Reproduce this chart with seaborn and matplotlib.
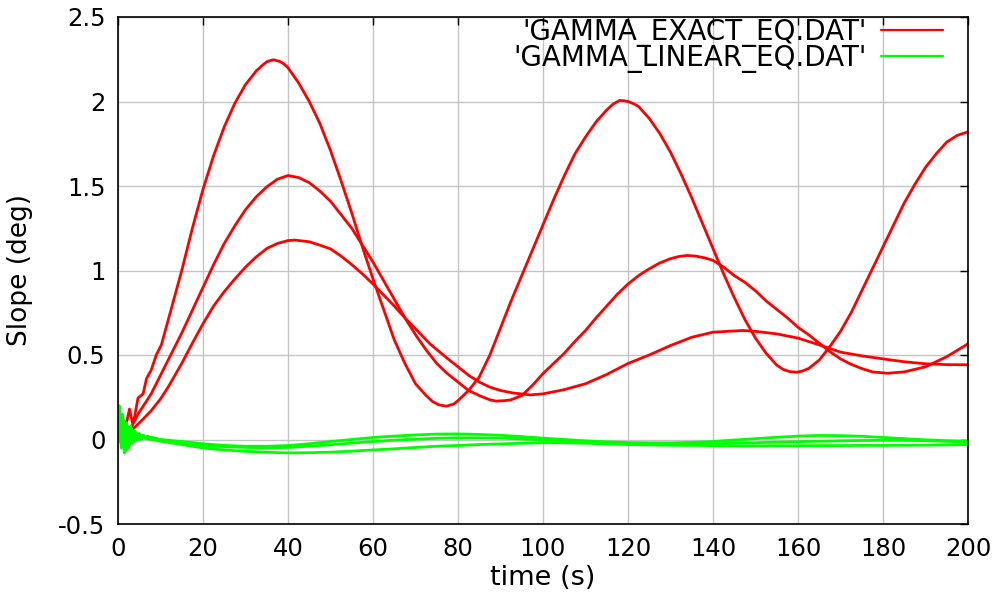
import numpy as np
import pandas as pd
import matplotlib
matplotlib.use("Agg")
import matplotlib.pyplot as plt
import seaborn as sns

# (time [s], slope [deg])
exact_run1 = [
    (0.8, 0.06), (1.2, 0.01), (2.0, 0.10), (2.7, 0.18), (3.4, 0.10), (3.8, 0.12),
    (4.7, 0.245), (5.9, 0.27), (6.7, 0.36), (7.8, 0.41), (9.0, 0.50), (10.2, 0.56),
    (12.5, 0.77), (15, 1.0), (17.5, 1.25), (20, 1.48), (22.5, 1.68), (25, 1.85),
    (27.5, 1.99), (30, 2.10), (32.5, 2.18), (34, 2.215), (35, 2.235), (36.5, 2.247),
    (38, 2.238), (39, 2.223), (40, 2.20), (42.5, 2.11), (45, 2.00), (47.5, 1.87),
    (50, 1.71), (52.5, 1.53), (55, 1.34), (57.5, 1.14), (60, 0.95), (62.5, 0.77),
    (65, 0.59), (67.5, 0.45), (70, 0.33), (72.5, 0.26), (74, 0.225), (75.5, 0.205),
    (77.3, 0.197), (79, 0.21), (80, 0.23), (82.5, 0.29), (85, 0.37), (87.5, 0.50),
    (90, 0.66), (92.5, 0.82), (95, 0.97), (97.5, 1.12), (100, 1.27), (102.5, 1.42),
    (105, 1.56), (107.5, 1.69), (110, 1.79), (112.5, 1.88), (115, 1.95), (116.5, 1.985),
    (118, 2.006), (119, 2.005), (120, 2.0), (121.5, 1.985), (122.5, 1.97), (125, 1.90),
    (127.5, 1.81), (130, 1.70), (132.5, 1.57), (135, 1.43), (137.5, 1.28), (140, 1.13),
    (142.5, 0.98), (145, 0.84), (147.5, 0.71), (150, 0.60), (152.5, 0.51), (155, 0.44),
    (156.5, 0.415), (158, 0.402), (159.7, 0.398), (161, 0.405), (162.5, 0.42), (165, 0.47),
    (167.5, 0.55), (170, 0.64), (172.5, 0.75), (175, 0.88), (177.5, 1.01), (180, 1.14),
    (182.5, 1.27), (185, 1.40), (187.5, 1.51), (190, 1.61), (192.5, 1.69), (195, 1.76),
    (197.5, 1.80), (200, 1.82),
]
exact_run2 = [
    (1.5, 0.03), (3.1, 0.07), (4.7, 0.15), (6.0, 0.20), (7.8, 0.27), (10, 0.38),
    (11.8, 0.47), (15, 0.63), (17.5, 0.765), (20, 0.90), (22.5, 1.035), (25, 1.16),
    (27.5, 1.265), (30, 1.36), (32.5, 1.435), (35, 1.495), (37.5, 1.54), (40, 1.562),
    (42.5, 1.55), (45, 1.52), (47.5, 1.47), (50, 1.41), (52.5, 1.33), (55, 1.25),
    (57.5, 1.15), (60, 1.05), (62.5, 0.94), (65, 0.83), (67.5, 0.72), (70, 0.62),
    (72.5, 0.53), (75, 0.45), (77.5, 0.39), (80, 0.34), (82.5, 0.29), (85, 0.26),
    (87.5, 0.235), (89, 0.227), (91, 0.23), (92.5, 0.235), (95, 0.26), (97.5, 0.32),
    (100, 0.39), (102.5, 0.45), (105, 0.51), (107.5, 0.58), (110, 0.645), (112.5, 0.72),
    (115, 0.79), (117.5, 0.86), (120, 0.92), (122.5, 0.97), (125, 1.01), (127.5, 1.045),
    (130, 1.07), (132, 1.083), (134, 1.089), (136, 1.085), (138, 1.075), (140, 1.06),
    (142.5, 1.02), (145, 0.97), (147.5, 0.93), (150, 0.88), (152.5, 0.82), (155, 0.77),
    (157.5, 0.72), (160, 0.664), (162.5, 0.62), (165, 0.57), (167.5, 0.52), (170, 0.477),
    (172.5, 0.445), (175, 0.42), (177.5, 0.40), (181, 0.392), (185, 0.40), (190, 0.43),
    (195, 0.49), (200, 0.566),
]
exact_run3 = [
    (1.5, 0.02), (3.0, 0.05), (4.7, 0.09), (7.8, 0.17), (10, 0.24), (11.8, 0.31),
    (15, 0.45), (17.5, 0.57), (20, 0.685), (22.5, 0.79), (25, 0.875), (27.5, 0.95),
    (30, 1.02), (32.5, 1.08), (35, 1.13), (37.5, 1.16), (40, 1.177), (41.6, 1.18),
    (45, 1.17), (47.5, 1.15), (50, 1.128),
    (52.5, 1.085), (55, 1.035), (57.5, 0.98), (60, 0.92), (62.5, 0.855), (65, 0.79),
    (67.5, 0.72), (70, 0.655), (73.4, 0.566), (77.5, 0.48), (80, 0.43), (82.5, 0.38),
    (85, 0.34), (87.5, 0.31), (90, 0.29), (93, 0.275), (97, 0.264), (100, 0.27),
    (105, 0.295), (110, 0.33), (115, 0.385), (120, 0.45), (125, 0.50), (130, 0.556),
    (135, 0.605), (140, 0.635), (147, 0.645), (150, 0.64), (155, 0.625), (160, 0.60),
    (165, 0.56), (170, 0.517), (175, 0.495), (180, 0.477), (185, 0.46), (190, 0.448),
    (195, 0.443), (200, 0.442),
]
linear_run1 = [
    (0, 0.02), (0.15, 0.18), (0.3, 0.20), (0.5, 0.02), (0.7, -0.02), (0.85, 0.12),
    (1.0, 0.15), (1.25, -0.02), (1.5, -0.08), (1.75, 0.05), (2.0, 0.10), (2.25, 0.0),
    (2.5, -0.05), (2.75, 0.04), (3.0, 0.08), (3.25, 0.01), (3.5, -0.02), (3.75, 0.03),
    (4.0, 0.05), (4.5, 0.0), (5.0, 0.035), (5.5, 0.005), (6.0, 0.025), (6.5, 0.008),
    (7.0, 0.02), (7.5, 0.008), (8.0, 0.012), (10, 0.0), (15, -0.012),
    (20, -0.025), (25, -0.035), (30, -0.04), (35, -0.04), (40, -0.036), (45, -0.025),
    (50, -0.012), (55, 0.0), (60, 0.012), (65, 0.02), (70, 0.027), (75, 0.032),
    (80, 0.033), (85, 0.03), (90, 0.025), (95, 0.017), (100, 0.008), (105, 0.0),
    (110, -0.008), (115, -0.014), (120, -0.018), (125, -0.02), (130, -0.02), (135, -0.017),
    (140, -0.012), (145, -0.003), (150, 0.005), (155, 0.013), (160, 0.02), (165, 0.024),
    (170, 0.023), (175, 0.019), (180, 0.012), (185, 0.005), (190, -0.002), (195, -0.007),
    (200, -0.01),
]
linear_run2 = [
    (0, 0.0), (0.2, 0.12), (0.4, 0.17), (0.6, 0.03), (0.8, -0.05), (1.0, 0.06),
    (1.2, 0.12), (1.45, 0.0), (1.7, -0.07), (1.95, 0.03), (2.2, 0.08), (2.5, 0.0),
    (2.8, -0.03), (3.05, 0.03), (3.3, 0.06), (3.55, 0.01), (3.8, -0.01), (4.1, 0.02),
    (4.4, 0.04), (5.0, 0.0), (5.6, 0.025), (6.5, 0.005), (7.0, 0.018), (7.5, 0.015),
    (9, 0.003), (10, -0.003), (15, -0.018), (20, -0.034),
    (25, -0.043), (30, -0.047), (35, -0.049), (40, -0.047), (45, -0.04), (50, -0.031),
    (55, -0.021), (60, -0.012), (65, -0.004), (70, 0.002), (75, 0.007), (80, 0.01),
    (85, 0.01), (90, 0.008), (95, 0.003), (100, -0.002), (105, -0.008), (110, -0.015),
    (115, -0.021), (120, -0.026), (125, -0.028), (130, -0.029), (135, -0.028), (140, -0.025),
    (145, -0.022), (150, -0.019), (155, -0.016), (160, -0.013), (165, -0.01), (170, -0.008),
    (175, -0.006), (180, -0.005), (185, -0.005), (190, -0.007), (195, -0.011), (200, -0.016),
]
linear_run3 = [
    (0, 0.01), (0.25, 0.09), (0.5, 0.12), (0.75, 0.02), (1.0, -0.03), (1.25, 0.04),
    (1.5, 0.09), (1.75, 0.0), (2.0, -0.06), (2.25, 0.01), (2.5, 0.06), (2.75, 0.01),
    (3.0, -0.02), (3.3, 0.02), (3.6, 0.045), (4.2, -0.005), (4.8, 0.03), (5.5, 0.0),
    (6.0, 0.02), (6.5, 0.015), (7.2, 0.002), (8, 0.0), (10, -0.01), (15, -0.03), (20, -0.05),
    (25, -0.062), (30, -0.07),
    (35, -0.076), (40, -0.079), (45, -0.078), (50, -0.075), (55, -0.069), (60, -0.062),
    (65, -0.055), (70, -0.047), (75, -0.04), (80, -0.035), (85, -0.03), (90, -0.026),
    (95, -0.022), (100, -0.019), (105, -0.019), (110, -0.022), (115, -0.026), (120, -0.03),
    (125, -0.032), (130, -0.034), (135, -0.035), (140, -0.036), (145, -0.037), (150, -0.037),
    (155, -0.037), (160, -0.037), (165, -0.036), (170, -0.036), (175, -0.035), (180, -0.035),
    (185, -0.034), (190, -0.033), (195, -0.032), (200, -0.03),
]

files = ["'GAMMA_EXACT_EQ.DAT'", "'GAMMA_LINEAR_EQ.DAT'"]
colors = ["#ff0000", "#00ff00"]
x_ticks = [0, 20, 40, 60, 80, 100, 120, 140, 160, 180, 200]
y_ticks = [-0.5, 0, 0.5, 1, 1.5, 2, 2.5]
y_tick_labels = ["-0.5", "0", "0.5", "1", "1.5", "2", "2.5"]

# long table: one row per point, "run" keeps the three runs of a file apart
rows = []
for name, runs in zip(files, [[exact_run1, exact_run2, exact_run3],
                              [linear_run1, linear_run2, linear_run3]]):
    for i, run in enumerate(runs):
        for t, v in run:
            rows.append((name, i, t, v))
df = pd.DataFrame(rows, columns=["file", "run", "time", "slope"])

sns.set_theme(style="white")
plt.rcParams["font.family"] = ["DejaVu Sans"]
plt.rcParams["text.color"] = "black"
plt.rcParams["axes.labelcolor"] = "black"
plt.rcParams["xtick.color"] = "black"
plt.rcParams["ytick.color"] = "black"

fig = plt.figure(figsize=(10.01, 5.97), dpi=100)
ax = fig.add_axes([118 / 1001, 1 - 524 / 597, 850 / 1001, 507 / 597])

sns.lineplot(data=df, x="time", y="slope", hue="file", units="run",
             estimator=None, sort=False, palette=colors, linewidth=2.0,
             solid_joinstyle="round", ax=ax)

ax.set_xlim(0, 200)
ax.set_ylim(-0.5, 2.5)
ax.set_xticks(x_ticks)
ax.set_yticks(y_ticks)
ax.set_yticklabels(y_tick_labels)
ax.grid(True, color="#c4c4c4", linewidth=1.0)
ax.set_axisbelow(True)
ax.tick_params(direction="in", top=True, right=True, length=6, width=1,
               labelsize=17.5, pad=9)
for s in ax.spines.values():
    s.set_color("black")
    s.set_linewidth(1.2)

ax.set_xlabel("time (s)", fontsize=19.5, labelpad=3)
ax.set_ylabel("Slope (deg)", fontsize=19, labelpad=18)

handles, labels = ax.get_legend_handles_labels()
leg = ax.legend(handles, labels, loc="upper right", bbox_to_anchor=(0.9706, 0.998),
                frameon=False, markerfirst=False, fontsize=20, handlelength=2.25,
                handletextpad=0.5, labelspacing=-0.12, borderpad=0, borderaxespad=0)
for line in leg.get_lines():
    line.set_linewidth(1.6)

fig.savefig("out.png", dpi=100)
